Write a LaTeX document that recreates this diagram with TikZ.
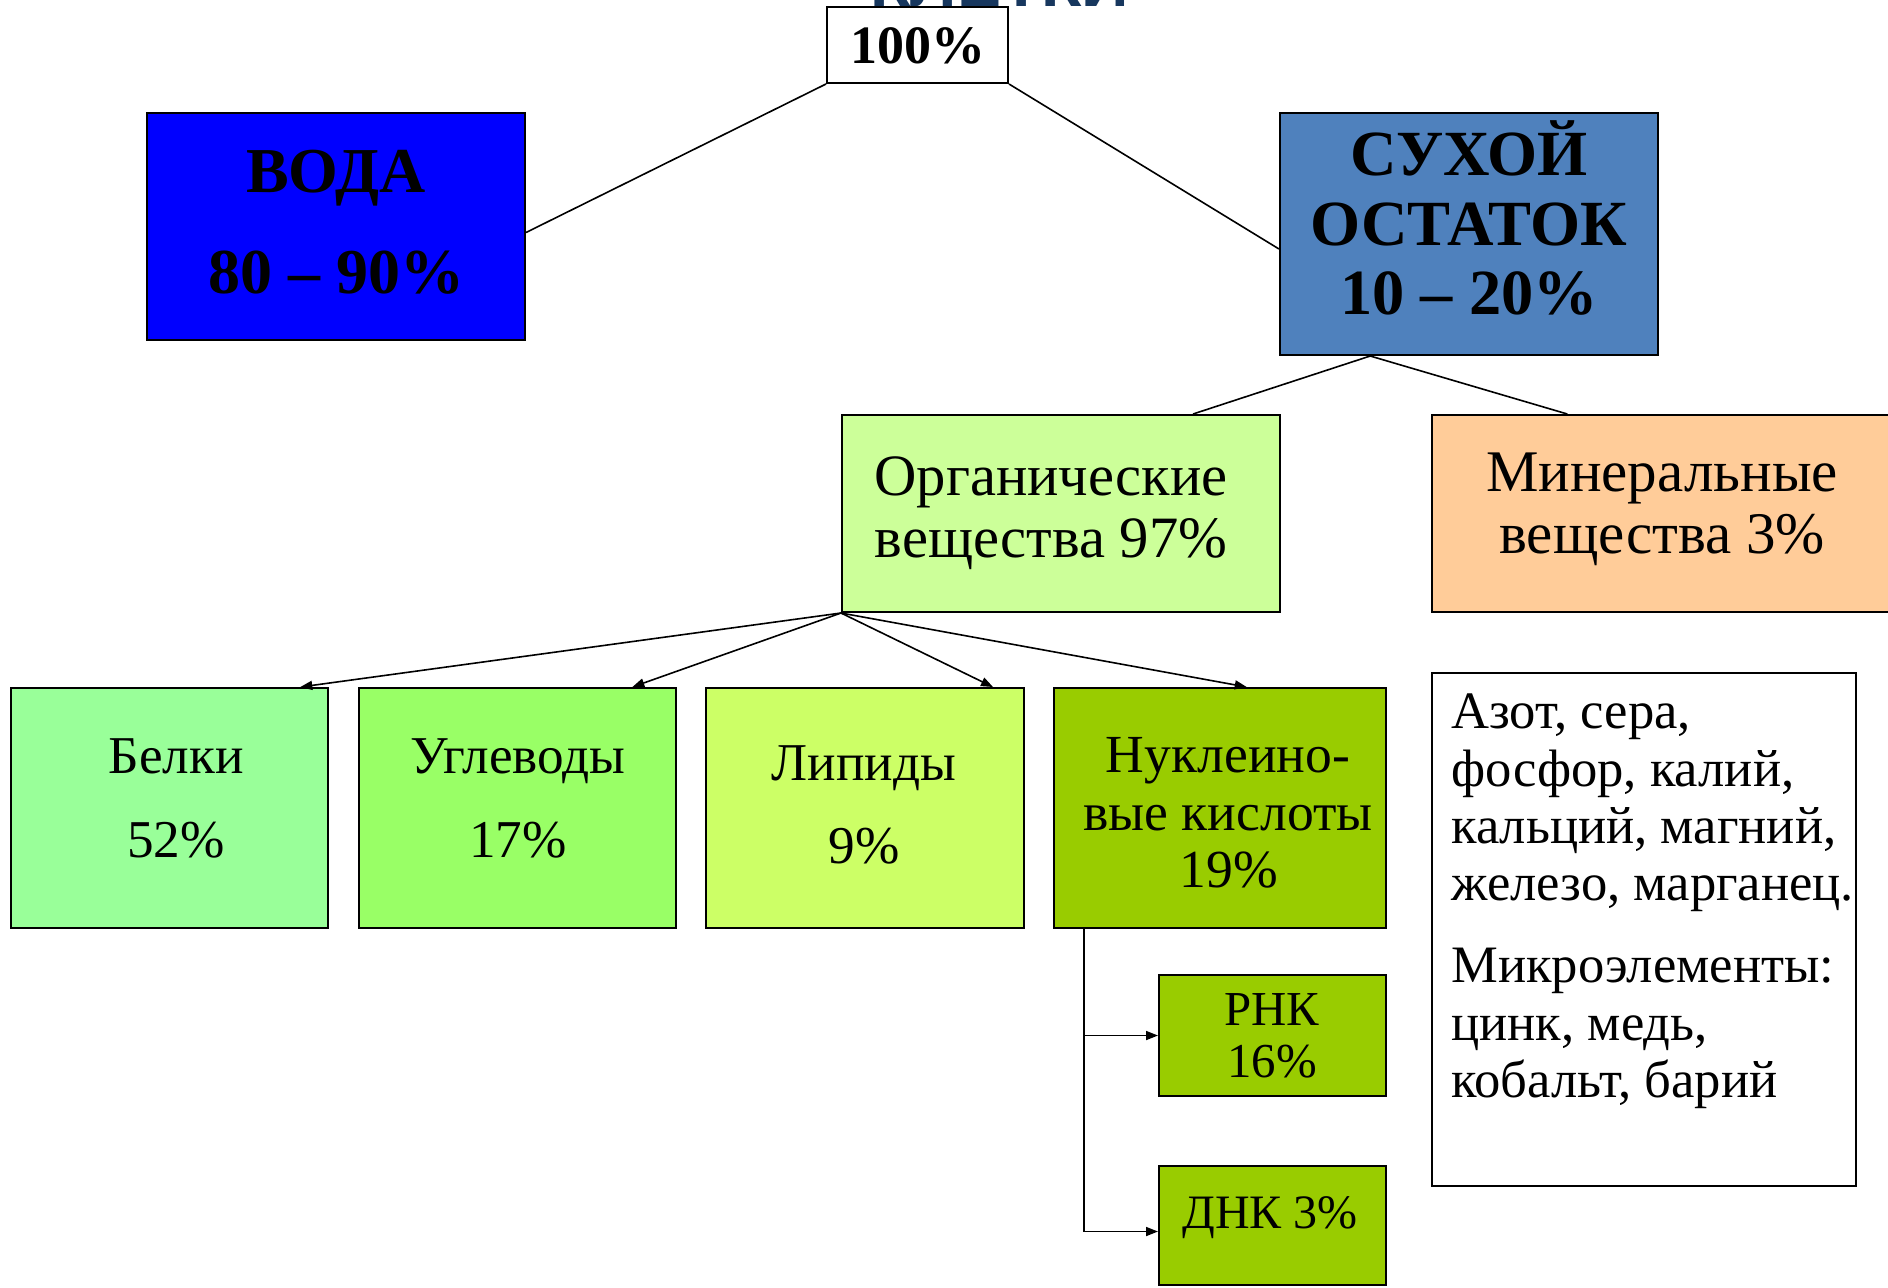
\documentclass[tikz,border=0pt]{standalone}
\usepackage{fontspec}
\setmainfont{Liberation Serif}
\newfontfamily\titlefont{Liberation Sans}
\usetikzlibrary{arrows.meta,calc}
\definecolor{cvoda}{HTML}{0000FF}
\definecolor{cdry}{HTML}{4F81BD}
\definecolor{corg}{HTML}{CCFF99}
\definecolor{cmin}{HTML}{FFCC99}
\definecolor{cbel}{HTML}{99FF99}
\definecolor{cugl}{HTML}{99FF66}
\definecolor{clip}{HTML}{CCFF66}
\definecolor{cnuc}{HTML}{99CC00}
\definecolor{ctitle}{RGB}{23,55,94}
\tikzset{
  bx/.style={draw=black, line width=1pt, inner sep=0pt, rectangle},
  ln/.style={line width=0.8pt},
  arr/.style={line width=0.8pt, -{Triangle[length=6pt,width=4.5pt]}},
  tb/.style={anchor=base, inner sep=0pt, font=\bfseries\fontsize{#1}{#1}\selectfont},
  tr/.style={anchor=base, inner sep=0pt, font=\fontsize{#1}{#1}\selectfont},
  trl/.style={anchor=base west, inner sep=0pt, font=\fontsize{#1}{#1}\selectfont},
}
\begin{document}
\begin{tikzpicture}[x=0.5pt,y=-0.5pt]
\useasboundingbox (0,0) rectangle (1888,1287);
\clip (0,0) rectangle (1888,1287);
\fill[white] (0,0) rectangle (1888,1287);

% title fragment
\node[anchor=base, inner sep=0pt, text=ctitle, font=\titlefont\bfseries\fontsize{33}{36}\selectfont] (title) at (1000,6) {КЛЕТКИ};

% boxes
\node[bx, fill=white, minimum width=90.5pt, minimum height=38pt] (top) at (917.5,45) {};
\node[bx, fill=cvoda, minimum width=189pt, minimum height=113.5pt] (voda) at (336,226.5) {};
\node[bx, fill=cdry, minimum width=189pt, minimum height=121pt] (dry) at (1469,234) {};
\node[bx, fill=corg, minimum width=219pt, minimum height=98.5pt] (org) at (1061,513.5) {};
\node[bx, fill=cmin, minimum width=234pt, minimum height=98.5pt] (min) at (1666,513.5) {};
\node[bx, fill=cbel, minimum width=158.5pt, minimum height=120pt] (bel) at (169.5,808) {};
\node[bx, fill=cugl, minimum width=158.5pt, minimum height=120pt] (ugl) at (517.5,808) {};
\node[bx, fill=clip, minimum width=159pt, minimum height=120pt] (lip) at (865,808) {};
\node[bx, fill=cnuc, minimum width=166pt, minimum height=120pt] (nuc) at (1220,808) {};
\node[bx, fill=cnuc, minimum width=113.5pt, minimum height=60.5pt] (rnk) at (1272.5,1035.5) {};
\node[bx, fill=cnuc, minimum width=113.5pt, minimum height=59.5pt] (dnk) at (1272.5,1225.5) {};
\node[bx, fill=white, minimum width=212pt, minimum height=256.5pt] (elem) at (1644,929.5) {};

% texts
\node[tb=27] (t100) at (917.5,63) {100\%};
\node[tb=32] (tv1) at (336,192) {ВОДА};
\node[tb=32] (tv2) at (336,293) {80 – 90\%};
\node[tb=32.2] (td1) at (1469,175) {СУХОЙ};
\node[tb=32.2] (td2) at (1469,245) {ОСТАТОК};
\node[tb=32.2] (td3) at (1469,314) {10 – 20\%};
\node[tr=29.3] (to1) at (1051,495) {Органические};
\node[tr=29.3] (to2) at (1051,557) {вещества 97\%};
\node[tr=29.5] (tm1) at (1662,491) {Минеральные};
\node[tr=29.5] (tm2) at (1662,553) {вещества 3\%};
\node[tr=26.6] (tb1) at (176,773) {Белки};
\node[tr=26.6] (tb2) at (176,857) {52\%};
\node[tr=26.6] (tu1) at (518,773) {Углеводы};
\node[tr=26.6] (tu2) at (518,857) {17\%};
\node[tr=26.6] (tl1) at (864,780) {Липиды};
\node[tr=26.6] (tl2) at (864,863) {9\%};
\node[tr=26.8] (tn1) at (1228,772) {Нуклеино-};
\node[tr=26.8] (tn2) at (1228,830) {вые кислоты};
\node[tr=26.8] (tn3) at (1229,887) {19\%};
\node[tr=24.4] (tr1) at (1272,1025) {РНК};
\node[tr=24.4] (tr2) at (1272,1077) {16\%};
\node[tr=24] (tdn) at (1270,1228) {ДНК 3\%};
\node[trl=26.3] (te1) at (1451,728) {Азот, сера,};
\node[trl=26.3] (te2) at (1451,786) {фосфор, калий,};
\node[trl=26.3] (te3) at (1451,843) {кальций, магний,};
\node[trl=26.3] (te4) at (1451,900) {железо, марганец.};
\node[trl=26.3] (te5) at (1451,982) {Микроэлементы:};
\node[trl=26.3] (te6) at (1451,1040) {цинк, медь,};
\node[trl=26.3] (te7) at (1451,1097) {кобальт, барий};

% connectors
\draw[ln] (top.south west) -- ($(voda.east)+(0,6)$);
\draw[ln] (top.south east) -- ($(dry.west)+(0,15)$);
\coordinate (dryb) at ($(dry.south west)!0.24!(dry.south east)$);
\draw[ln] (dryb) -- ($(org.north west)!0.8!(org.north east)$);
\draw[ln] (dryb) -- ($(min.north west)!0.29!(min.north east)$);
\draw[arr] (org.south west) -- ($(bel.north west)!0.91!(bel.north east)$);
\draw[arr] (org.south west) -- ($(ugl.north west)!0.86!(ugl.north east)$);
\draw[arr] (org.south west) -- ($(lip.north west)!0.90!(lip.north east)$);
\draw[arr] (org.south west) -- ($(nuc.north west)!0.58!(nuc.north east)$);
\coordinate (nb) at ($(nuc.south west)!0.093!(nuc.south east)$);
\draw[arr] (nb) |- ($(dnk.west)+(0,6)$);
\draw[arr] (nb |- rnk.west) -- (rnk.west);
\end{tikzpicture}
\end{document}
